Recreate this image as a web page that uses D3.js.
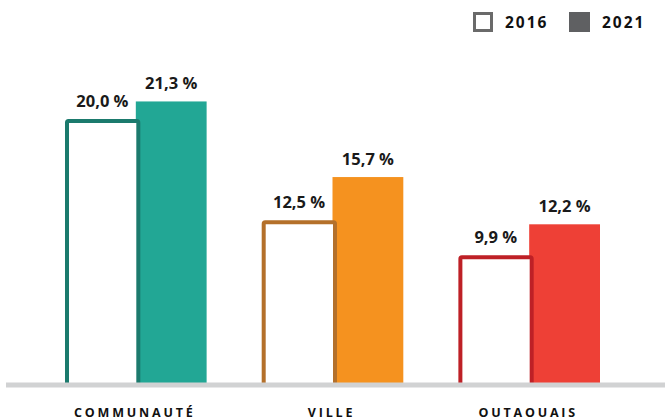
<!DOCTYPE html>
<html>
<head>
<meta charset="utf-8">
<script src="https://cdn.jsdelivr.net/npm/d3@7"></script>
<style>
  body { margin: 0; background: #fff; }
  text { font-family: "Open Sans", sans-serif; font-weight: 700; }
</style>
</head>
<body>
<div id="chart"></div>
<script>
// data
var categories = ["COMMUNAUTÉ", "VILLE", "OUTAOUAIS"];
var years = ["2016", "2021"];
var values2016 = [20.0, 12.5, 9.9];
var values2021 = [21.3, 15.7, 12.2];
var fills = ["#22a795", "#f5921f", "#ee4036"];
var strokes = ["#1b7a6d", "#b4702a", "#be2026"];

var width = 665, height = 420;
var axisY = 385;

var svg = d3.select("#chart").append("svg")
    .attr("width", width)
    .attr("height", height);

// scales
var x = d3.scaleBand().domain(categories).range([6, 659]).paddingInner(0.28).paddingOuter(0.3);
var xSub = d3.scaleBand().domain(years).range([0, x.bandwidth()]).padding(0);
var y = d3.scaleLinear().domain([0, 28]).range([389, 11]);

var fmt = function (v) { return d3.format(".1f")(v).replace(".", ",") + " %"; };

// clip bars at the axis line
svg.append("clipPath").attr("id", "clip")
    .append("rect").attr("x", 0).attr("y", 0).attr("width", width).attr("height", axisY);

var rows = categories.map(function (c, i) {
    return { cat: c, v16: values2016[i], v21: values2021[i], fill: fills[i], stroke: strokes[i] };
});

var g = svg.append("g").attr("clip-path", "url(#clip)");

var groups = g.selectAll(".grp")
    .data(rows)
    .enter().append("g")
    .attr("class", "grp")
    .attr("transform", function (d) { return "translate(" + x(d.cat) + ",0)"; });

// 2021 filled bars
groups.append("rect")
    .attr("x", xSub("2021"))
    .attr("y", function (d) { return y(d.v21); })
    .attr("width", xSub.bandwidth())
    .attr("height", function (d) { return y(0) - y(d.v21); })
    .attr("fill", function (d) { return d.fill; });

// 2016 outlined bars
groups.append("rect")
    .attr("x", xSub("2016") + 2)
    .attr("y", function (d) { return y(d.v16) + 2; })
    .attr("width", xSub.bandwidth() + 0.5)
    .attr("height", function (d) { return y(0) - y(d.v16); })
    .attr("rx", 1.5)
    .attr("fill", "#fff")
    .attr("stroke", function (d) { return d.stroke; })
    .attr("stroke-width", 4);

// value labels
var labels = svg.selectAll(".grpLabels")
    .data(rows)
    .enter().append("g")
    .attr("transform", function (d) { return "translate(" + x(d.cat) + ",0)"; });

labels.append("text")
    .attr("x", xSub("2016") + xSub.bandwidth() / 2 + 2)
    .attr("y", function (d) { return y(d.v16) - 12; })
    .attr("text-anchor", "middle")
    .attr("font-size", 16.5)
    .attr("fill", "#1a1a1a")
    .text(function (d) { return fmt(d.v16); });

labels.append("text")
    .attr("x", xSub("2021") + xSub.bandwidth() / 2)
    .attr("y", function (d) { return y(d.v21) - 12; })
    .attr("text-anchor", "middle")
    .attr("font-size", 16.5)
    .attr("fill", "#1a1a1a")
    .text(function (d) { return fmt(d.v21); });

// axis line
svg.append("line")
    .attr("x1", 6).attr("x2", width)
    .attr("y1", axisY).attr("y2", axisY)
    .attr("stroke", "#d1d2d3")
    .attr("stroke-width", 5);

// category labels
svg.selectAll(".cat")
    .data(categories)
    .enter().append("text")
    .attr("class", "cat")
    .attr("x", function (d) { return x(d) + x.bandwidth() / 2 - 1; })
    .attr("y", 417)
    .attr("text-anchor", "middle")
    .attr("font-size", 12.5)
    .attr("letter-spacing", 2.8)
    .attr("fill", "#111")
    .text(function (d) { return d; });

// legend
var legend = svg.append("g");
legend.append("rect")
    .attr("x", 474.5).attr("y", 13.5).attr("width", 17).attr("height", 17)
    .attr("fill", "#fff").attr("stroke", "#6a6a6a").attr("stroke-width", 3);
legend.append("text")
    .attr("x", 505).attr("y", 28)
    .attr("font-size", 15.5).attr("letter-spacing", 2)
    .attr("fill", "#111")
    .text(years[0]);
legend.append("rect")
    .attr("x", 569).attr("y", 12).attr("width", 21).attr("height", 20)
    .attr("fill", "#5f6062");
legend.append("text")
    .attr("x", 602).attr("y", 28)
    .attr("font-size", 15.5).attr("letter-spacing", 2)
    .attr("fill", "#111")
    .text(years[1]);
</script>
</body>
</html>
